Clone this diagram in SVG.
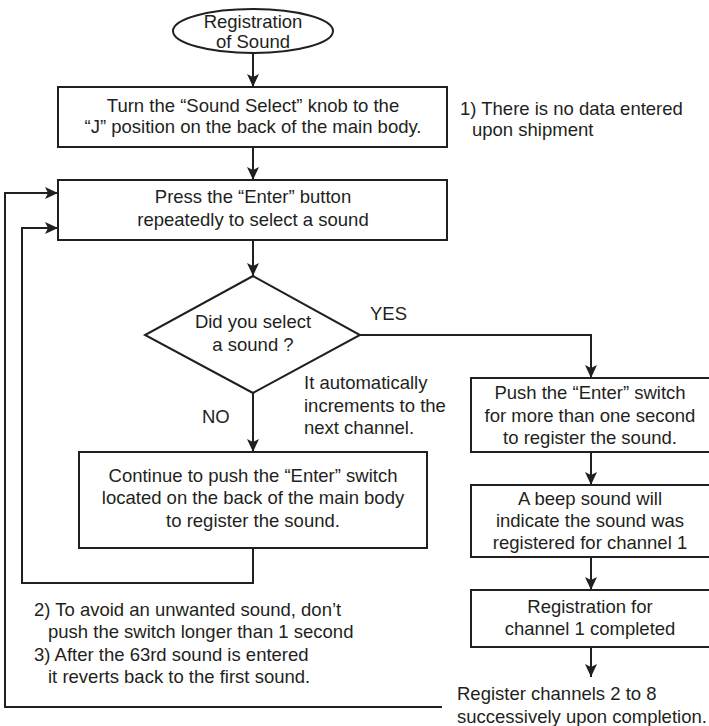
<svg xmlns="http://www.w3.org/2000/svg" width="709" height="726" viewBox="0 0 709 726">
<defs>
<style>
text{font-family:"Liberation Sans",Arial,sans-serif;font-size:18.5px;fill:#231f20}
.c{text-anchor:middle}
.s{fill:#fff;stroke:#231f20;stroke-width:2}
.l{fill:none;stroke:#231f20;stroke-width:2}
.a{marker-end:url(#ah)}
</style>
<marker id="ah" markerUnits="userSpaceOnUse" markerWidth="14" markerHeight="14" viewBox="0 0 14 14" refX="13" refY="7" orient="auto">
<path d="M0,1 L13,7 L0,13 L3,7 z" fill="#231f20"/>
</marker>
</defs>
<rect width="709" height="726" fill="#fff"/>
<g id="connectors">
<path class="l a" d="M253,53 V87"/>
<path class="l a" d="M253,147 V180"/>
<path class="l a" d="M253,240 V276"/>
<path class="l a" d="M360,335 H591 V378"/>
<path class="l a" d="M253,393 V452"/>
<path class="l a" d="M591,452 V485"/>
<path class="l a" d="M591,557 V590"/>
<path class="l a" d="M591,647 V677"/>
<path class="l a" d="M253,548 V583 H22 V228 H58"/>
<path class="l a" d="M442,707 H5 V193 H58"/>
</g>
<g id="start">
<ellipse class="s" cx="253" cy="31" rx="80" ry="22"/>
<text class="c" x="253" y="28">Registration</text>
<text class="c" x="253" y="48">of Sound</text>
</g>
<g id="turn-knob">
<rect class="s" x="58" y="87" width="389" height="60"/>
<text class="c" x="253" y="112">Turn the “Sound Select” knob to the</text>
<text class="c" x="253" y="133">“J” position on the back of the main body.</text>
</g>
<g id="note1">
<text x="460" y="115">1) There is no data entered</text>
<text x="472" y="136">upon shipment</text>
</g>
<g id="press-enter">
<rect class="s" x="58" y="180" width="389" height="60"/>
<text class="c" x="253" y="203">Press the “Enter” button</text>
<text class="c" x="253" y="226">repeatedly to select a sound</text>
</g>
<g id="decision">
<path class="s" d="M253,276 L360,335 L253,393 L145,335 Z"/>
<text class="c" x="253" y="328">Did you select</text>
<text class="c" x="253" y="351">a sound ?</text>
</g>
<g id="label-yes"><text x="370" y="320">YES</text></g>
<g id="label-no"><text x="202" y="423">NO</text></g>
<g id="label-auto">
<text x="304" y="389">It automatically</text>
<text x="304" y="412">increments to the</text>
<text x="304" y="434">next channel.</text>
</g>
<g id="push-long">
<rect class="s" x="471" y="378" width="250" height="74"/>
<text class="c" x="590" y="399">Push the “Enter” switch</text>
<text class="c" x="590" y="422">for more than one second</text>
<text class="c" x="590" y="444">to register the sound.</text>
</g>
<g id="beep">
<rect class="s" x="471" y="485" width="250" height="72"/>
<text class="c" x="590" y="505">A beep sound will</text>
<text class="c" x="590" y="527">indicate the sound was</text>
<text class="c" x="590" y="549">registered for channel 1</text>
</g>
<g id="completed">
<rect class="s" x="471" y="590" width="250" height="57"/>
<text class="c" x="590" y="613">Registration for</text>
<text class="c" x="590" y="635">channel 1 completed</text>
</g>
<g id="register-rest">
<text x="457" y="700">Register channels 2 to 8</text>
<text x="457" y="723">successively upon completion.</text>
</g>
<g id="continue-push">
<rect class="s" x="79" y="452" width="348" height="96"/>
<text class="c" x="253" y="482">Continue to push the “Enter” switch</text>
<text class="c" x="253" y="504">located on the back of the main body</text>
<text class="c" x="253" y="527">to register the sound.</text>
</g>
<g id="notes">
<text x="34" y="616">2) To avoid an unwanted sound, don’t</text>
<text x="48" y="638">push the switch longer than 1 second</text>
<text x="34" y="661">3) After the 63rd sound is entered</text>
<text x="48" y="683">it reverts back to the first sound.</text>
</g>
</svg>
